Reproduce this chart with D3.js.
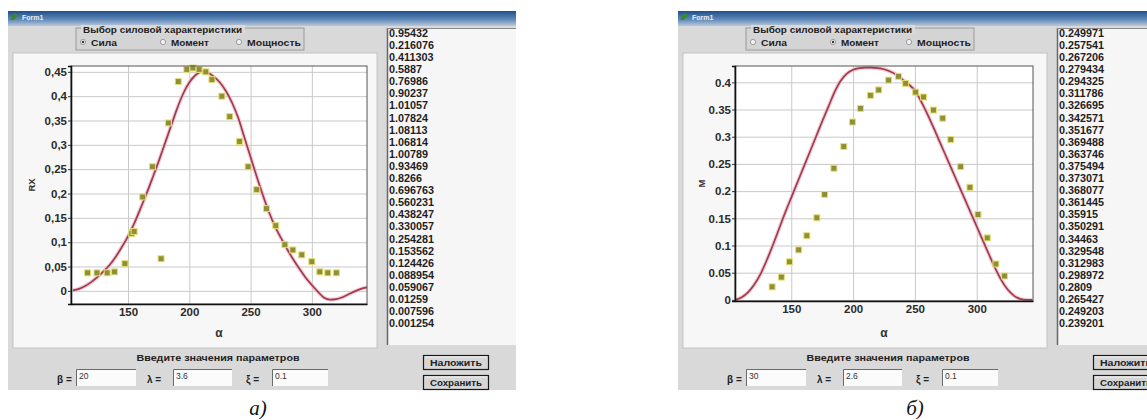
<!DOCTYPE html>
<html>
<head>
<meta charset="utf-8">
<script src="https://cdn.jsdelivr.net/npm/d3@7"></script>
<style>
  body { margin: 0; background: #fff; }
  svg { display: block; font-family: "Liberation Sans", Arial, sans-serif; }
</style>
</head>
<body>
<svg id="fig" width="1147" height="420"></svg>
<script>
// ---- angle grid of the computed curves (degrees) ----
const curveAlpha = [105,110,115,120,125,130,135,140,145,150,155,160,165,170,175,180,185,190,195,200,
  205,210,215,220,225,230,235,240,245,250,255,260,265,270,275,280,285,290,295,300,
  305,310,315,320,325,330,335,340,345];

// force RX computed
const forceCurve = [0.001,0.004,0.010,0.018,0.028,0.040,0.053,0.070,0.090,0.112,0.138,0.168,0.199,0.232,0.266,0.302,0.338,0.374,0.405,0.428,
  0.443,0.450,0.448,0.440,0.428,0.410,0.386,0.355,0.315,0.275,0.235,0.197,0.162,0.132,0.108,0.085,0.064,0.045,0.027,0.012,
  -0.002,-0.014,-0.018,-0.017,-0.013,-0.007,-0.001,0.004,0.007];

// moment M computed
const momentCurve = [0.000,0.005,0.014,0.028,0.047,0.072,0.100,0.130,0.160,0.188,0.216,0.244,0.272,0.300,0.328,0.355,0.382,0.403,0.416,0.423,
  0.426,0.427,0.427,0.426,0.424,0.420,0.414,0.405,0.396,0.385,0.365,0.342,0.317,0.291,0.265,0.239,0.213,0.187,0.161,0.135,
  0.109,0.083,0.058,0.036,0.019,0.008,0.002,0.000,0.000];

// measured force points
const forcePtAlpha = [117,124.7,133,139,147.5,153,155,162,170,177,183,191,198,203,208,213.5,218.5,226.6,233,241,
  248,255,263,270.6,278,284.5,291.8,300,306.5,313,320];
const forcePtValue = [0.037,0.037,0.037,0.039,0.056,0.118,0.122,0.193,0.255,0.066,0.345,0.430,0.455,0.458,0.455,0.450,0.434,0.400,0.358,0.307,
  0.255,0.208,0.169,0.134,0.095,0.084,0.074,0.060,0.039,0.037,0.037];

// measured moment points
const momentPtAlpha = [134.5,142,148.6,156,162.6,170.7,177,184.5,192.5,199.5,206,214,220.7,228.7,236.7,242.5,250.6,257,265,272.5,
  279,287,294.5,301,308.5,315.5,322.5];
const momentPtValue = [0.024,0.042,0.070,0.092,0.118,0.151,0.194,0.242,0.282,0.327,0.352,0.376,0.386,0.404,0.411,0.398,0.382,0.373,0.349,0.334,
  0.295,0.245,0.207,0.157,0.114,0.066,0.044];

// list box contents
const forceList = ["0.95432","0.216076","0.411303","0.5887","0.76986","0.90237","1.01057","1.07824","1.08113","1.06814",
  "1.00789","0.93469","0.8266","0.696763","0.560231","0.438247","0.330057","0.254281","0.153562","0.124426",
  "0.088954","0.059067","0.01259","0.007596","0.001254"];
const momentList = ["0.249971","0.257541","0.267206","0.279434","0.294325","0.311786","0.326695","0.342571","0.351677","0.369488",
  "0.363746","0.375494","0.373071","0.368077","0.361445","0.35915","0.350291","0.34463","0.329548","0.312983",
  "0.298972","0.2809","0.265427","0.249203","0.239201"];

// axis ticks
const forceTicks = [0,0.05,0.1,0.15,0.2,0.25,0.3,0.35,0.4,0.45];
const momentTicks = [0,0.05,0.1,0.15,0.2,0.25,0.3,0.35,0.4];
const alphaTicks = [150,200,250,300];

// form texts
const modeNames = ["Сила","Момент","Мощность"];
const paramNames = ["β =","λ =","ξ ="];
const forceParams = ["20","3.6","0.1"];
const momentParams = ["30","2.6","0.1"];

const svg = d3.select("#fig");
const defs = svg.append("defs");
const tg = defs.append("linearGradient").attr("id","titleGrad").attr("x1",0).attr("y1",0).attr("x2",0).attr("y2",1);
tg.append("stop").attr("offset","0%").attr("stop-color","#1f4f8a");
tg.append("stop").attr("offset","55%").attr("stop-color","#5d86b8");
tg.append("stop").attr("offset","100%").attr("stop-color","#b9c9dc");

function drawForm(cfg) {
  // all coordinates below are relative to a form whose left edge sits at x = 8
  const g = svg.append("g").attr("transform", `translate(${cfg.left - 8},0)`);

  // form body and caption bar
  g.append("rect").attr("x",8).attr("y",11).attr("width",508).attr("height",379).attr("fill","#d9d9d9");
  g.append("rect").attr("x",8).attr("y",11).attr("width",508).attr("height",15).attr("fill","url(#titleGrad)");
  g.append("path").attr("d","M10,20 L14,13 L18,15 L14,20 Z").attr("fill","#3a8a2a");
  g.append("text").attr("x",22).attr("y",20).attr("font-size",7).attr("font-weight","bold")
    .attr("fill","#e8eef6").text("Form1");

  // mode selection group
  g.append("rect").attr("x",76).attr("y",28).attr("width",228).attr("height",22)
    .attr("fill","#d4d4d4").attr("stroke","#9a9a9a");
  g.append("rect").attr("x",81).attr("y",25).attr("width",164).attr("height",9).attr("fill","#d9d9d9");
  g.append("text").attr("x",83).attr("y",33).attr("font-size",8.5).attr("font-weight","bold")
    .attr("fill","#222").attr("textLength",159).attr("lengthAdjust","spacingAndGlyphs")
    .text("Выбор силовой характеристики");
  const radioX = [83,163,239];
  const radioW = [26,38,54];
  modeNames.forEach((m,i) => {
    g.append("circle").attr("cx",radioX[i]).attr("cy",42).attr("r",2.6)
      .attr("fill","#f4f4f4").attr("stroke","#888").attr("stroke-width",0.8);
    if (i === cfg.mode) g.append("circle").attr("cx",radioX[i]).attr("cy",42).attr("r",1.2).attr("fill","#333");
    g.append("text").attr("x",radioX[i] + 8).attr("y",45.5).attr("font-size",8.5).attr("font-weight","bold")
      .attr("fill","#222").attr("textLength",radioW[i]).attr("lengthAdjust","spacingAndGlyphs").text(m);
  });

  // chart panel
  g.append("rect").attr("x",13).attr("y",53).attr("width",364).attr("height",295)
    .attr("fill","#f7f7f7").attr("stroke","#c4c4c4");

  const f = cfg.frame;
  const x = d3.scaleLinear().domain(cfg.xDomain).range([f.x0, f.x1]);
  const y = d3.scaleLinear().domain(cfg.yDomain).range([f.y1, f.y0]);
  g.append("rect").attr("x",f.x0).attr("y",f.y0).attr("width",f.x1-f.x0).attr("height",f.y1-f.y0).attr("fill","#fff");

  // grid
  g.append("g").attr("transform",`translate(0,${f.y1})`)
    .call(d3.axisBottom(x).tickValues(alphaTicks).tickSize(-(f.y1-f.y0)).tickFormat(""))
    .call(s => { s.select(".domain").remove(); s.selectAll("line").attr("stroke","#c9c9c9"); });
  g.append("g").attr("transform",`translate(${f.x0},0)`)
    .call(d3.axisLeft(y).tickValues(cfg.yTicks).tickSize(-(f.x1-f.x0)).tickFormat(""))
    .call(s => { s.select(".domain").remove(); s.selectAll("line").attr("stroke","#c9c9c9"); });

  // computed curve
  const line = d3.line().x((d,i) => x(curveAlpha[i])).y(d => y(d)).curve(d3.curveMonotoneX);
  g.append("path").datum(cfg.curve).attr("d",line).attr("fill","none")
    .attr("stroke","#eab9c3").attr("stroke-width",4).attr("opacity",0.7);
  g.append("path").datum(cfg.curve).attr("d",line).attr("fill","none")
    .attr("stroke","#a23a50").attr("stroke-width",1.7);

  // measured points
  g.append("g").selectAll("rect").data(cfg.ptValue).join("rect")
    .attr("x",(d,i) => x(cfg.ptAlpha[i]) - 3).attr("y",d => y(d) - 3)
    .attr("width",6).attr("height",6)
    .attr("fill","#8f8f35").attr("stroke","#e6e07a").attr("stroke-width",1);

  // frame
  g.append("rect").attr("x",f.x0).attr("y",f.y0).attr("width",f.x1-f.x0).attr("height",f.y1-f.y0)
    .attr("fill","none").attr("stroke","#555").attr("stroke-width",1);

  // axes
  const ax = g.append("g").attr("transform",`translate(${f.x0},0)`)
    .call(d3.axisLeft(y).tickValues(cfg.yTicks).tickSize(3).tickPadding(1).tickFormat(cfg.yFormat));
  ax.select(".domain").attr("stroke","#111").attr("stroke-width",1.6);
  ax.selectAll("text").attr("font-size",11.5).attr("font-weight","bold").attr("fill","#2b2b2b")
    .attr("font-family","Liberation Sans, Arial, sans-serif");
  ax.selectAll("line").attr("stroke","#333");
  const bx = g.append("g").attr("transform",`translate(0,${f.y1})`)
    .call(d3.axisBottom(x).tickValues(alphaTicks).tickSize(0).tickPadding(4).tickFormat(d3.format("d")));
  bx.select(".domain").attr("stroke","#111").attr("stroke-width",1.6);
  bx.selectAll("text").attr("font-size",11.5).attr("font-weight","bold").attr("fill","#2b2b2b")
    .attr("font-family","Liberation Sans, Arial, sans-serif");

  g.append("text").attr("x",(f.x0+f.x1)/2).attr("y",337).attr("text-anchor","middle")
    .attr("font-size",12).attr("font-weight","bold").attr("fill","#333").text("α");
  g.append("text").attr("transform",`translate(35,${(f.y0+f.y1)/2}) rotate(-90)`).attr("text-anchor","middle")
    .attr("font-size",9.5).attr("font-weight","bold").attr("fill","#333").text(cfg.yLabel);

  // value list box
  g.append("rect").attr("x",387).attr("y",28).attr("width",129).attr("height",317).attr("fill","#f6f6f6");
  g.append("line").attr("x1",387.5).attr("x2",387.5).attr("y1",28).attr("y2",345).attr("stroke","#666").attr("stroke-width",1.5);
  g.append("line").attr("x1",387).attr("x2",516).attr("y1",28.5).attr("y2",28.5).attr("stroke","#888");
  g.append("g").selectAll("text").data(cfg.list).join("text")
    .attr("x",389).attr("y",(d,i) => 36.8 + i * 12.1)
    .attr("font-size",10.8).attr("font-weight","bold").attr("fill","#1e1e1e").text(d => d);

  // parameter inputs
  g.append("text").attr("x",218).attr("y",361).attr("text-anchor","middle").attr("font-size",8.5)
    .attr("font-weight","bold").attr("fill","#222").attr("textLength",163).attr("lengthAdjust","spacingAndGlyphs")
    .text("Введите значения параметров");
  const labelX = [57,147,246];
  const boxX = [76,173,272];
  const boxW = [60,59,56];
  paramNames.forEach((p,i) => {
    g.append("text").attr("x",labelX[i]).attr("y",383).attr("font-size",10).attr("font-weight","bold")
      .attr("fill","#222").text(p);
    g.append("rect").attr("x",boxX[i]).attr("y",369).attr("width",boxW[i]).attr("height",17).attr("fill","#fbfbfb");
    g.append("path").attr("d",`M${boxX[i]+0.5},${386} V${369.5} H${boxX[i]+boxW[i]}`)
      .attr("fill","none").attr("stroke","#6a6a6a").attr("stroke-width",1);
    g.append("text").attr("x",boxX[i] + 3).attr("y",378.5).attr("font-size",8.5).attr("fill","#333").text(cfg.params[i]);
  });

  // buttons
  [["Наложить",355],["Сохранить",375]].forEach(([t,by]) => {
    g.append("rect").attr("x",423.5).attr("y",by + 0.5).attr("width",65).attr("height",14)
      .attr("fill","#d6d6d6").attr("stroke","#1a1a1a").attr("stroke-width",1.2);
    g.append("line").attr("x1",425).attr("x2",487).attr("y1",by + 2).attr("y2",by + 2).attr("stroke","#f4f4f4");
    g.append("text").attr("x",456).attr("y",by + 10.5).attr("text-anchor","middle").attr("font-size",8.5)
      .attr("font-weight","bold").attr("fill","#222").attr("textLength",52).attr("lengthAdjust","spacingAndGlyphs").text(t);
  });

  // figure caption
  svg.append("text").attr("x",cfg.captionX).attr("y",415).attr("text-anchor","middle")
    .attr("font-family","Liberation Serif, Times New Roman, serif").attr("font-style","italic")
    .attr("font-size",21).attr("fill","#111").text(cfg.caption);
}

drawForm({
  left: 8, mode: 0,
  frame: {x0: 71, x1: 367, y0: 66, y1: 304},
  xDomain: [103.5, 345], yDomain: [-0.027, 0.462],
  yTicks: forceTicks, yFormat: d => d3.format("")(d).replace(".", ","),
  yLabel: "RX",
  curve: forceCurve, ptAlpha: forcePtAlpha, ptValue: forcePtValue,
  list: forceList, params: forceParams,
  caption: "а)", captionX: 258
});

drawForm({
  left: 678, mode: 1,
  frame: {x0: 65, x1: 363, y0: 66, y1: 301},
  xDomain: [104.5, 345.5], yDomain: [-0.002, 0.43],
  yTicks: momentTicks, yFormat: d3.format(""),
  yLabel: "M",
  curve: momentCurve, ptAlpha: momentPtAlpha, ptValue: momentPtValue,
  list: momentList, params: momentParams,
  caption: "б)", captionX: 915
});
</script>
</body>
</html>
